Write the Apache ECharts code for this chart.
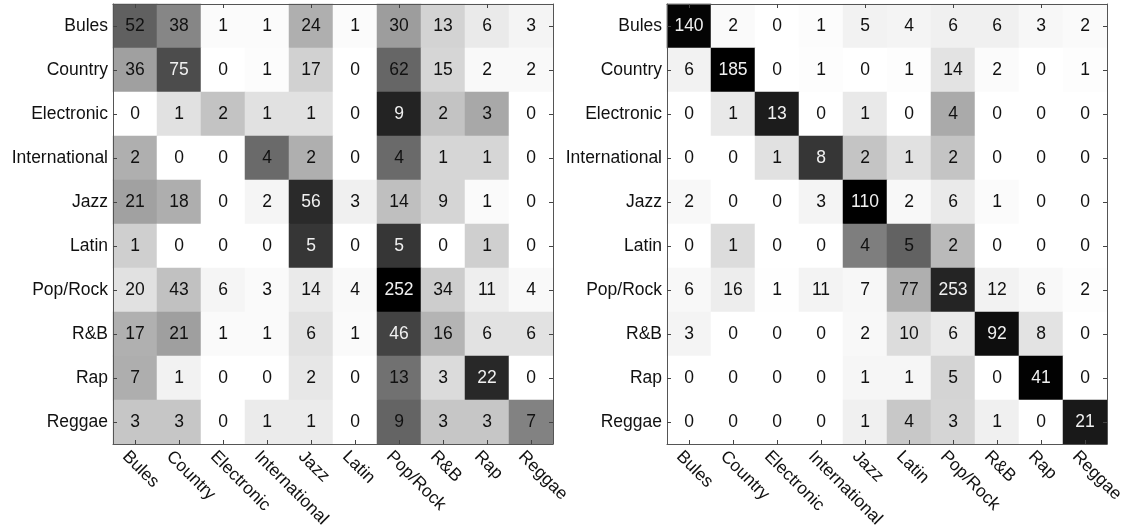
<!DOCTYPE html>
<html>
<head>
<meta charset="utf-8">
<script src="https://cdn.jsdelivr.net/npm/echarts@6/dist/echarts.min.js"></script>
<style>html,body{margin:0;padding:0;background:#fff;}#c{width:1132px;height:531px;}</style>
</head>
<body>
<div id="c"></div>
<script>
var categories = ['Bules','Country','Electronic','International','Jazz','Latin','Pop/Rock','R&B','Rap','Reggae'];

var leftMatrix = [
  [52,38,1,1,24,1,30,13,6,3],
  [36,75,0,1,17,0,62,15,2,2],
  [0,1,2,1,1,0,9,2,3,0],
  [2,0,0,4,2,0,4,1,1,0],
  [21,18,0,2,56,3,14,9,1,0],
  [1,0,0,0,5,0,5,0,1,0],
  [20,43,6,3,14,4,252,34,11,4],
  [17,21,1,1,6,1,46,16,6,6],
  [7,1,0,0,2,0,13,3,22,0],
  [3,3,0,1,1,0,9,3,3,7]
];

var rightMatrix = [
  [140,2,0,1,5,4,6,6,3,2],
  [6,185,0,1,0,1,14,2,0,1],
  [0,1,13,0,1,0,4,0,0,0],
  [0,0,1,8,2,1,2,0,0,0],
  [2,0,0,3,110,2,6,1,0,0],
  [0,1,0,0,4,5,2,0,0,0],
  [6,16,1,11,7,77,253,12,6,2],
  [3,0,0,0,2,10,6,92,8,0],
  [0,0,0,0,1,1,5,0,41,0],
  [0,0,0,0,1,4,3,1,0,21]
];

var FONT = "'Liberation Sans', Arial, Helvetica, sans-serif";
var FS = 17.5;

function build(matrix) {
  var data = [], maxF = 0;
  matrix.forEach(function (row) {
    var s = row.reduce(function (a, b) { return a + b; }, 0);
    row.forEach(function (v) { maxF = Math.max(maxF, v / s); });
  });
  matrix.forEach(function (row, r) {
    var s = row.reduce(function (a, b) { return a + b; }, 0);
    row.forEach(function (v, c) {
      var f = v / s;
      var t = f / maxF;
      data.push({
        value: [c, r, f, v],
        label: { color: t > 0.52 ? '#f0f0f0' : '#111' }
      });
    });
  });
  return { data: data, max: maxF };
}

var gradient = [];
for (var i = 0; i <= 40; i++) {
  var t = i / 40;
  var g = Math.round(255 * Math.pow(1 - t, 1.5));
  gradient.push('rgb(' + g + ',' + g + ',' + g + ')');
}

var L = build(leftMatrix), R = build(rightMatrix);

var grids = [
  { left: 113, top: 4, width: 440, height: 440 },
  { left: 667, top: 4, width: 440, height: 440 }
];

var tickStyle = { show: true, inside: true, alignWithLabel: true, length: 4, lineStyle: { color: '#444' } };
var lineStyle = { show: true, lineStyle: { color: '#555', width: 1 } };

var xAxes = [], yAxes = [];
[0, 1].forEach(function (gi) {
  xAxes.push({
    type: 'category', data: categories, gridIndex: gi, position: 'bottom', z: 10,
    axisLine: lineStyle, axisTick: tickStyle,
    axisLabel: { rotate: -45, margin: 0, verticalAlign: 'top', align: 'left', padding: [5, 0, 0, 0],
      fontSize: FS, color: '#111', fontFamily: FONT, interval: 0 },
    splitLine: { show: false }
  });
  xAxes.push({
    type: 'category', data: categories, gridIndex: gi, position: 'top', z: 10,
    axisLine: lineStyle, axisTick: tickStyle,
    axisLabel: { show: false }, splitLine: { show: false }
  });
  yAxes.push({
    type: 'category', data: categories, gridIndex: gi, position: 'left', inverse: true, z: 10,
    axisLine: lineStyle, axisTick: tickStyle,
    axisLabel: { margin: 5, fontSize: FS, color: '#111', fontFamily: FONT, interval: 0 },
    splitLine: { show: false }
  });
  yAxes.push({
    type: 'category', data: categories, gridIndex: gi, position: 'right', inverse: true, z: 10,
    axisLine: lineStyle, axisTick: tickStyle,
    axisLabel: { show: false }, splitLine: { show: false }
  });
});

var labelStyle = { show: true, fontSize: FS, fontFamily: FONT, formatter: function (p) { return p.value[3]; } };

var option = {
  backgroundColor: '#fff',
  animation: false,
  grid: grids,
  xAxis: xAxes,
  yAxis: yAxes,
  visualMap: [
    { type: 'continuous', show: false, seriesIndex: 0, dimension: 2, min: 0, max: L.max, inRange: { color: gradient } },
    { type: 'continuous', show: false, seriesIndex: 1, dimension: 2, min: 0, max: R.max, inRange: { color: gradient } }
  ],
  series: [
    { type: 'heatmap', xAxisIndex: 0, yAxisIndex: 0, data: L.data, label: labelStyle, emphasis: { disabled: true } },
    { type: 'heatmap', xAxisIndex: 2, yAxisIndex: 2, data: R.data, label: labelStyle, emphasis: { disabled: true } }
  ]
};

var chart = echarts.init(document.getElementById('c'), null, { renderer: 'canvas' });
chart.setOption(option);
</script>
</body>
</html>
